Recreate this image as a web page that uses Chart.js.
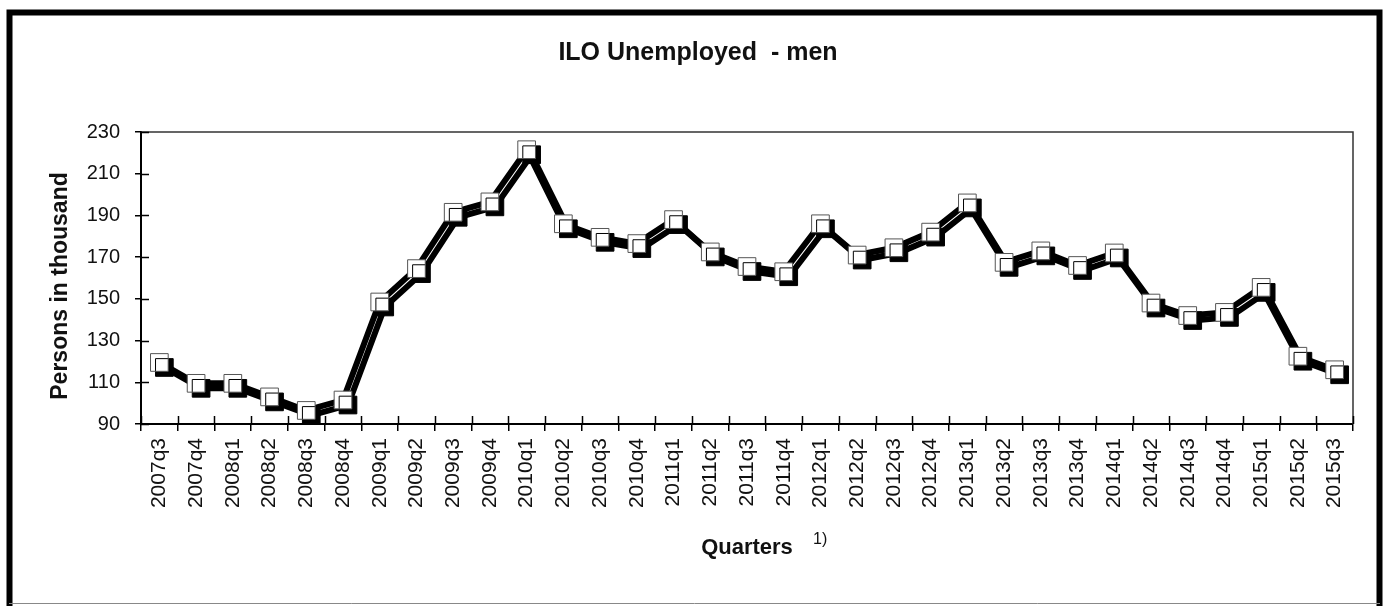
<!DOCTYPE html>
<html>
<head>
<meta charset="utf-8">
<script src="https://cdn.jsdelivr.net/npm/chart.js@4.4.1/dist/chart.umd.min.js"></script>
<style>
  html, body { margin: 0; padding: 0; background: #fff; }
  canvas { display: block; }
</style>
</head>
<body>
<canvas id="c" width="1386" height="606"></canvas>
<script>
const categories = [
  "2007q3","2007q4",
  "2008q1","2008q2","2008q3","2008q4",
  "2009q1","2009q2","2009q3","2009q4",
  "2010q1","2010q2","2010q3","2010q4",
  "2011q1","2011q2","2011q3","2011q4",
  "2012q1","2012q2","2012q3","2012q4",
  "2013q1","2013q2","2013q3","2013q4",
  "2014q1","2014q2","2014q3","2014q4",
  "2015q1","2015q2","2015q3"
];
const unemployedMen = [
  119.5, 109.5,
  109.5, 103, 96.5, 101.5,
  148.5, 164.5, 191.5, 196.5,
  221.5, 186, 179.5, 176.5,
  188, 172.5, 165.5, 163,
  186, 171, 174.5, 182,
  196, 167.5, 173, 166,
  172, 148, 142, 143.5,
  155.5, 122.5, 116
];
const yMin = 90, yMax = 230, yStep = 20;
const chartTitle = "ILO Unemployed  - men";
const yTitle = "Persons in thousand";
const xTitle = "Quarters";
const footnoteMark = "1)";

const FONT = "'Liberation Sans', Arial, Helvetica, sans-serif";

const decorPlugin = {
  id: 'decor',
  beforeDraw(chart) {
    const ctx = chart.ctx;
    ctx.save();
    ctx.fillStyle = '#fff';
    ctx.fillRect(0, 0, chart.width, chart.height);
    // outer frame
    ctx.strokeStyle = '#000';
    ctx.lineWidth = 6;
    ctx.beginPath();
    ctx.moveTo(9.5, 606);
    ctx.lineTo(9.5, 12.5);
    ctx.lineTo(1379.5, 12.5);
    ctx.lineTo(1379.5, 606);
    ctx.stroke();
    ctx.strokeStyle = '#888';
    ctx.lineWidth = 1;
    ctx.beginPath();
    ctx.moveTo(9, 603.5);
    ctx.lineTo(1380, 603.5);
    ctx.stroke();
    ctx.restore();
  },
  beforeDatasetsDraw(chart) {
    const ctx = chart.ctx;
    const a = chart.chartArea;
    const xs = chart.scales.x, ys = chart.scales.y;
    ctx.save();
    // top and right plot border
    ctx.strokeStyle = '#333';
    ctx.lineWidth = 1.5;
    ctx.beginPath();
    ctx.moveTo(a.left, a.top);
    ctx.lineTo(a.right, a.top);
    ctx.lineTo(a.right, a.bottom);
    ctx.stroke();
    // inner tick marks
    ctx.strokeStyle = '#000';
    ctx.lineWidth = 1.5;
    ctx.beginPath();
    ys.ticks.forEach(t => {
      const y = Math.round(ys.getPixelForValue(t.value)) + 0.5;
      ctx.moveTo(a.left, y);
      ctx.lineTo(a.left + 8, y);
    });
    for (let i = 0; i <= categories.length; i++) {
      const x = Math.round(xs.getPixelForValue(i - 0.5)) + 0.5;
      ctx.moveTo(x, a.bottom);
      ctx.lineTo(x, a.bottom - 8);
    }
    ctx.stroke();
    ctx.restore();
  },
  beforeDatasetDraw(chart) {
    const ctx = chart.ctx;
    ctx.save();
    ctx.shadowColor = '#000';
    ctx.shadowOffsetX = 5;
    ctx.shadowOffsetY = 5;
    ctx.shadowBlur = 0;
  },
  afterDatasetDraw(chart) {
    chart.ctx.restore();
  },
  afterDraw(chart) {
    const ctx = chart.ctx;
    ctx.save();
    ctx.fillStyle = '#111';
    // y axis title
    ctx.translate(61, 286);
    ctx.rotate(-Math.PI / 2);
    ctx.font = "bold 23px " + FONT;
    ctx.textAlign = 'center';
    ctx.textBaseline = 'middle';
    ctx.fillText(yTitle, 0, 0);
    ctx.restore();
    // footnote mark
    ctx.save();
    ctx.fillStyle = '#111';
    ctx.font = "16px " + FONT;
    ctx.textAlign = 'left';
    ctx.textBaseline = 'top';
    ctx.fillText(footnoteMark, 813, 532);
    ctx.restore();
  }
};

new Chart(document.getElementById('c'), {
  type: 'line',
  data: {
    labels: categories,
    datasets: [{
      data: unemployedMen,
      borderColor: '#000',
      borderWidth: 6,
      tension: 0,
      pointStyle: 'rect',
      pointRadius: 12.5,
      pointBorderWidth: 1,
      pointBorderColor: '#555',
      pointBackgroundColor: '#fff',
      clip: false
    }]
  },
  options: {
    responsive: false,
    animation: false,
    devicePixelRatio: 1,
    layout: { padding: { left: 43, right: 33, top: 0, bottom: 45 } },
    plugins: {
      legend: { display: false },
      tooltip: { enabled: false },
      title: {
        display: true,
        text: chartTitle,
        color: '#111',
        font: { family: FONT, size: 25, weight: 'bold', lineHeight: 1.2 },
        padding: { top: 38, bottom: 64 }
      }
    },
    scales: {
      x: {
        type: 'category',
        offset: true,
        afterFit(scale) { scale.height = 137; },
        grid: {
          offset: true,
          drawOnChartArea: false,
          drawTicks: true,
          tickLength: 7,
          color: '#000',
          lineWidth: 1.5
        },
        border: { display: true, color: '#000', width: 2 },
        ticks: {
          autoSkip: false,
          minRotation: 90,
          maxRotation: 90,
          padding: 7,
          color: '#111',
          font: { family: FONT, size: 21 }
        },
        title: {
          display: true,
          text: xTitle,
          color: '#111',
          padding: { top: 0, bottom: 0 },
          font: { family: FONT, size: 22, weight: 'bold', lineHeight: 1.2 }
        }
      },
      y: {
        min: yMin,
        max: yMax,
        afterFit(scale) { scale.width = 98; },
        grid: {
          drawOnChartArea: false,
          drawTicks: true,
          tickLength: 6,
          color: '#000',
          lineWidth: 1.5
        },
        border: { display: true, color: '#000', width: 2 },
        ticks: {
          stepSize: yStep,
          padding: 15,
          color: '#111',
          font: { family: FONT, size: 20 }
        },
        title: { display: false }
      }
    }
  },
  plugins: [decorPlugin]
});
</script>
</body>
</html>
